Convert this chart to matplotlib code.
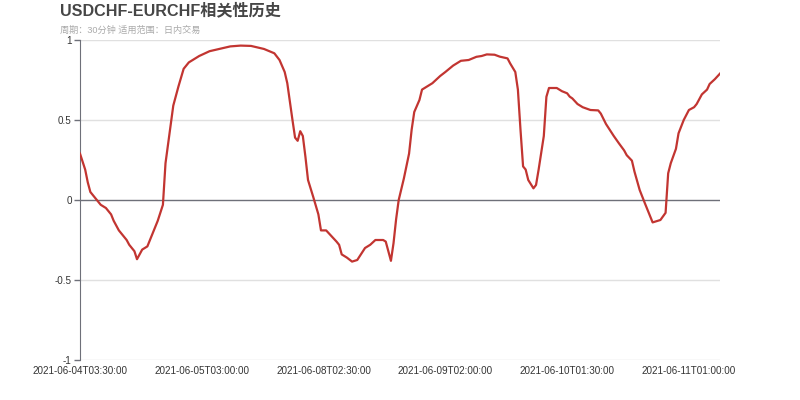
import matplotlib.pyplot as plt

plt.rcParams['font.family'] = ['Liberation Sans', 'Noto Sans CJK SC', 'DejaVu Sans']

# bar index (30-minute bars) and correlation
idx = [0, 2, 3, 4, 6, 8, 10, 11, 12, 13, 15, 18, 19, 21, 22, 24, 26, 28, 30, 32,
       33, 35, 36, 38, 40, 42, 46, 50, 54, 58, 62, 66, 71, 75, 77, 79, 80, 82, 83, 84,
       85, 86, 87, 88, 90, 92, 93, 95, 97, 99, 100, 101, 103, 105, 107, 108, 110, 112,
       114, 117, 118, 120, 121, 122, 123, 125, 127, 128, 129, 131, 132, 134, 136, 139,
       141, 144, 147, 150, 153, 155, 157, 160, 162, 165, 166, 168, 169, 170, 171, 172,
       173, 175, 176, 177, 179, 180, 181, 184, 186, 188, 189, 190, 192, 194, 197, 200,
       201, 203, 206, 208, 210, 211, 213, 214, 216, 218, 220, 221, 222, 224, 226,
       227, 228, 230, 231, 233, 235, 237, 238, 240, 242, 243, 245, 247]
corr = [0.29, 0.19, 0.11, 0.05, 0.01, -0.03, -0.05, -0.07, -0.09, -0.13, -0.19, -0.25,
        -0.28, -0.32, -0.37, -0.31, -0.29, -0.21, -0.13, -0.03,
        0.23, 0.47, 0.59, 0.71, 0.82, 0.86, 0.90, 0.93, 0.945, 0.96, 0.965, 0.963, 0.944,
        0.917, 0.875, 0.80, 0.73, 0.50, 0.39, 0.37,
        0.43, 0.40, 0.27, 0.125, 0.02, -0.09, -0.19, -0.19, -0.225, -0.26, -0.28, -0.34,
        -0.36, -0.385, -0.375, -0.35, -0.30, -0.28,
        -0.25, -0.25, -0.26, -0.38, -0.27, -0.12, 0.0, 0.135, 0.29, 0.44, 0.55, 0.625,
        0.69, 0.71, 0.73, 0.775,
        0.80, 0.84, 0.87, 0.875, 0.895, 0.90, 0.91, 0.908, 0.896, 0.885, 0.854, 0.80,
        0.69, 0.44, 0.21, 0.19,
        0.125, 0.073, 0.094, 0.19, 0.40, 0.645, 0.70, 0.70, 0.68, 0.667, 0.646, 0.635,
        0.60, 0.58, 0.5625, 0.56,
        0.54, 0.475, 0.40, 0.354, 0.31, 0.28, 0.246, 0.177, 0.0625, -0.02, -0.10, -0.14,
        -0.135, -0.125, -0.08,
        0.167, 0.23, 0.32, 0.417, 0.50, 0.5625, 0.58, 0.60, 0.66, 0.69, 0.725, 0.755, 0.79]

tick_pos = [0, 47, 94, 141, 188, 235]
tick_labels = ['2021-06-04T03:30:00', '2021-06-05T03:00:00', '2021-06-08T02:30:00',
               '2021-06-09T02:00:00', '2021-06-10T01:30:00', '2021-06-11T01:00:00']
y_ticks = [-1, -0.5, 0, 0.5, 1]
y_labels = ['-1', '-0.5', '0', '0.5', '1']

fig = plt.figure(figsize=(8, 4), dpi=100)
ax = fig.add_axes([0.1, 0.1, 0.8, 0.8])

for y in [-1, -0.5, 0.5, 1]:
    ax.axhline(y, color='#e0e0e0', linewidth=1, zorder=1)
ax.axhline(0, color='#6e7079', linewidth=1, zorder=2)

ax.plot(idx, corr, color='#c23531', linewidth=1.6, zorder=3)

ax.set_xlim(0, 247)
ax.set_ylim(-1, 1)
ax.set_xticks(tick_pos)
ax.set_xticklabels(tick_labels, fontsize=7.1, color='#333333')
ax.set_yticks(y_ticks)
ax.set_yticklabels(y_labels, fontsize=7.1, color='#333333')
ax.tick_params(axis='x', length=0, pad=4.5)
ax.tick_params(axis='y', length=4, width=1, color='#6e7079', pad=2)

for side in ['top', 'right', 'bottom']:
    ax.spines[side].set_visible(False)
ax.spines['left'].set_color('#6e7079')

fig.text(0.075, 0.995, 'USDCHF-EURCHF相关性历史', fontsize=11.6, fontweight='bold',
         color='#464646', va='top', ha='left')
fig.text(0.075, 0.937, '周期：30分钟 适用范围：日内交易', fontsize=6.6, color='#aaaaaa',
         va='top', ha='left')

fig.savefig('out.png', dpi=100)
